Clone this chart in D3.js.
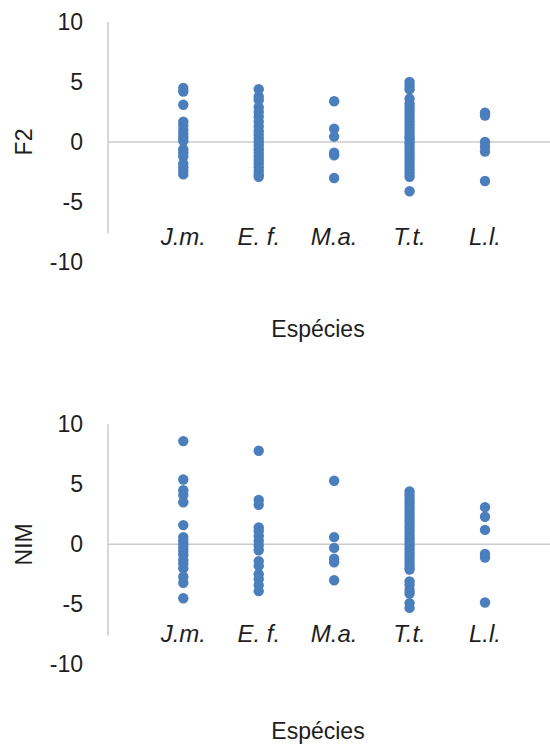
<!DOCTYPE html>
<html>
<head>
<meta charset="utf-8">
<script src="https://cdn.jsdelivr.net/npm/d3@7/dist/d3.min.js"></script>
<style>
body { margin: 0; background: #fff; }
text { font-family: "Liberation Sans", Arial, sans-serif; fill: #1e1e1e; }
</style>
</head>
<body>
<script>
// categories (species)
var species = ["J.m.", "E. f.", "M.a.", "T.t.", "L.l."];
var yTicks = [-10, -5, 0, 5, 10];

// F2 values
var f2Jm = [4.5, 4.2, 3.1, 1.7, 1.4, 1.0, 0.7, 0.4, 0.1, -0.6, -0.9, -1.2, -1.8, -2.1, -2.4, -2.7];
var f2Ef = [4.4, 3.8, 3.5, 2.9, 2.5, 2.1, 1.7, 1.3, 0.9, 0.6, 0.3, 0.0, -0.3, -0.6, -0.9, -1.2, -1.5, -1.8, -2.1, -2.4, -2.7, -2.9];
var f2Ma = [3.4, 1.1, 0.45, -0.9, -1.1, -3.0];
var f2Tt = [5.0, 4.7, 4.4, 3.6, 3.2, 2.9, 2.6, 2.3, 2.0, 1.7, 1.4, 1.1, 0.8, 0.5, 0.3, 0.0, -0.2, -0.5, -0.8, -1.1, -1.4, -1.7, -2.0, -2.3, -2.6, -2.9, -4.1];
var f2Ll = [2.45, 2.2, 0.0, -0.4, -0.8, -3.25];

// NIM values
var nimJm = [8.6, 5.4, 4.5, 4.1, 3.5, 1.6, 0.6, 0.3, 0.0, -0.3, -0.6, -0.9, -1.3, -1.6, -2.0, -2.7, -3.2, -4.5];
var nimEf = [7.8, 3.7, 3.3, 1.4, 1.1, 0.7, 0.3, -0.1, -0.5, -1.4, -1.8, -2.5, -2.9, -3.4, -3.9];
var nimMa = [5.3, 0.6, -0.3, -1.2, -1.5, -3.0];
var nimTt = [4.4, 4.1, 3.8, 3.5, 3.2, 2.9, 2.6, 2.3, 2.0, 1.7, 1.4, 1.1, 0.8, 0.5, 0.2, -0.1, -0.4, -0.7, -1.0, -1.3, -1.6, -1.9, -2.1, -3.1, -3.4, -3.8, -4.1, -4.9, -5.3];
var nimLl = [3.1, 2.3, 1.2, -0.8, -1.1, -4.85];

var width = 550;
var height = 746;
var svg;

var dotColor = "#4a7ebd";
var lineColor = "#cbcbcb";

function drawChart(top, yTitle, series, labelY) {
    var g = svg.append("g").attr("transform", "translate(0," + top + ")");

    var x = d3.scalePoint()
        .domain(species)
        .range([183.3, 485]);

    var y = d3.scaleLinear()
        .domain([-10, 10])
        .range([240, 0]);

    // vertical axis line (stops above the -10 label, like the original)
    g.append("line")
        .attr("x1", 108).attr("x2", 108)
        .attr("y1", y(10)).attr("y2", 211.5)
        .attr("stroke", lineColor).attr("stroke-width", 1.5);

    // horizontal zero line
    g.append("line")
        .attr("x1", 108).attr("x2", width)
        .attr("y1", y(0)).attr("y2", y(0))
        .attr("stroke", lineColor).attr("stroke-width", 1.5);

    // y tick labels (plain hyphen minus, as in the original)
    var yAxis = g.append("g")
        .attr("transform", "translate(108,0)")
        .call(d3.axisLeft(y).tickValues(yTicks).tickSize(0).tickPadding(25)
            .tickFormat(function(d) { return String(d); }));
    yAxis.select(".domain").remove();
    yAxis.selectAll("text")
        .style("font-size", "23px")
        .style("font-family", "'Liberation Sans', Arial, sans-serif")
        .attr("fill", "#1e1e1e");

    // points
    for (let i = 0; i < species.length; i++) {
        g.append("g").selectAll("circle")
            .data(series[i])
            .enter().append("circle")
            .attr("cx", x(species[i]))
            .attr("cy", function(d) { return y(d); })
            .attr("r", 5.2)
            .attr("fill", dotColor);
    }

    // category labels
    g.selectAll(".cat")
        .data(species)
        .enter().append("text")
        .attr("class", "cat")
        .attr("x", function(d) { return x(d); })
        .attr("y", labelY)
        .attr("text-anchor", "middle")
        .style("font-size", "24px")
        .style("font-style", "italic")
        .text(function(d) { return d; });

    // y title
    g.append("text")
        .attr("transform", "translate(24," + y(0) + ") rotate(-90)")
        .attr("dy", "0.35em")
        .attr("text-anchor", "middle")
        .style("font-size", "23px")
        .text(yTitle);

    // x title
    g.append("text")
        .attr("x", 318)
        .attr("y", 315)
        .attr("text-anchor", "middle")
        .style("font-size", "23px")
        .text("Espécies");
}

window.onload = function() {
    svg = d3.select("body").append("svg")
        .attr("width", width)
        .attr("height", height);
    drawChart(22, "F2", [f2Jm, f2Ef, f2Ma, f2Tt, f2Ll], 223);
    drawChart(424.3, "NIM", [nimJm, nimEf, nimMa, nimTt, nimLl], 218);
};
</script>
</body>
</html>
